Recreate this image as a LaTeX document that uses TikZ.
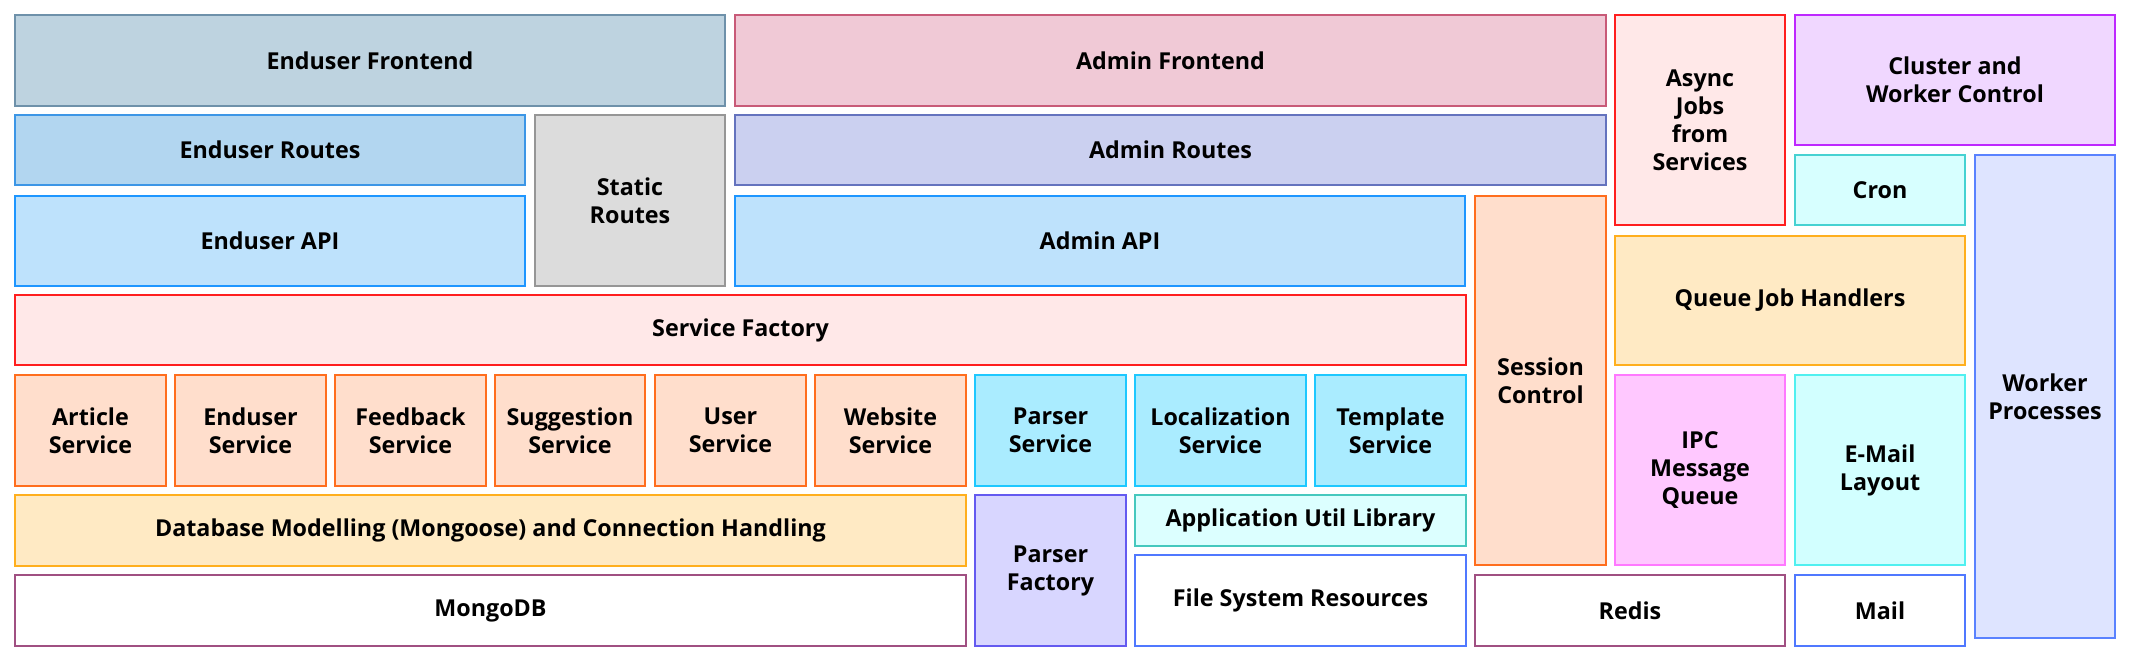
\documentclass[tikz,border=0pt]{standalone}
\usepackage{fontspec}
\setmainfont{Open Sans}
\definecolor{efF}{RGB}{190,211,224}\definecolor{efD}{RGB}{110,145,170}
\definecolor{erF}{RGB}{178,214,240}\definecolor{erD}{RGB}{60,150,230}
\definecolor{apiF}{RGB}{190,226,252}\definecolor{apiD}{RGB}{30,150,255}
\definecolor{stF}{RGB}{220,220,220}\definecolor{stD}{RGB}{150,150,150}
\definecolor{afF}{RGB}{240,201,214}\definecolor{afD}{RGB}{200,90,120}
\definecolor{arF}{RGB}{203,208,240}\definecolor{arD}{RGB}{100,115,190}
\definecolor{orF}{RGB}{255,222,204}\definecolor{orD}{RGB}{255,110,30}
\definecolor{rdF}{RGB}{255,232,232}\definecolor{rdD}{RGB}{255,30,30}
\definecolor{cyF}{RGB}{170,236,255}\definecolor{cyD}{RGB}{30,200,255}
\definecolor{yeF}{RGB}{255,234,196}\definecolor{yeD}{RGB}{255,175,30}
\definecolor{mgD}{RGB}{160,80,130}
\definecolor{pfF}{RGB}{216,214,255}\definecolor{pfD}{RGB}{100,90,240}
\definecolor{auF}{RGB}{220,255,255}\definecolor{auD}{RGB}{70,200,190}
\definecolor{fsD}{RGB}{80,120,255}
\definecolor{crF}{RGB}{215,255,255}\definecolor{crD}{RGB}{70,210,210}
\definecolor{emF}{RGB}{210,255,255}\definecolor{emD}{RGB}{80,240,240}
\definecolor{ipF}{RGB}{255,200,255}\definecolor{ipD}{RGB}{255,120,255}
\definecolor{clF}{RGB}{240,215,255}\definecolor{clD}{RGB}{190,40,255}
\definecolor{wpF}{RGB}{222,228,255}\definecolor{wpD}{RGB}{90,130,255}
\newcommand\lay[7]{%
  \pgfmathsetmacro\bxw{#5-#3}\pgfmathsetmacro\bxh{#6-#4}%
  \node[lbox,#2,minimum width=\bxw pt,minimum height=\bxh pt] (#1) at ({(#3+#5)/2},{(#4+#6)/2}) {#7};}
\begin{document}
\begin{tikzpicture}[x=1pt,y=-1pt,
  lbox/.style={rectangle,line width=2pt,inner sep=0pt,outer sep=0pt,align=center,
    font=\fontsize{23.3}{28}\selectfont\bfseries}]
\useasboundingbox[fill=white] (0,0) rectangle (2130,660);
\lay{ef}{fill=efF,draw=efD}{15}{15}{725}{106}{Enduser Frontend}
\lay{af}{fill=afF,draw=afD}{735}{15}{1606}{106}{Admin Frontend}
\lay{aj}{fill=rdF,draw=rdD}{1615}{15}{1785}{225}{Async\\Jobs\\from\\Services}
\lay{cl}{fill=clF,draw=clD}{1795}{15}{2115}{145}{Cluster and\\Worker Control}
\lay{er}{fill=erF,draw=erD}{15}{115}{525}{185}{Enduser Routes}
\lay{sr}{fill=stF,draw=stD}{535}{115}{725}{286}{Static\\Routes}
\lay{ar}{fill=arF,draw=arD}{735}{115}{1606}{185}{Admin Routes}
\lay{cr}{fill=crF,draw=crD}{1795}{155}{1965}{225}{Cron}
\lay{wp}{fill=wpF,draw=wpD}{1975}{155}{2115}{638}{Worker\\Processes}
\lay{ea}{fill=apiF,draw=apiD}{15}{196}{525}{286}{Enduser API}
\lay{aa}{fill=apiF,draw=apiD}{735}{196}{1465}{286}{Admin API}
\lay{sc}{fill=orF,draw=orD}{1475}{196}{1606}{565}{Session\\Control}
\lay{qj}{fill=yeF,draw=yeD}{1615}{236}{1965}{365}{Queue Job Handlers}
\lay{sf}{fill=rdF,draw=rdD}{15}{295}{1466}{365}{Service Factory}
\lay{s1}{fill=orF,draw=orD}{15}{375}{166}{486}{Article\\Service}
\lay{s2}{fill=orF,draw=orD}{175}{375}{326}{486}{Enduser\\Service}
\lay{s3}{fill=orF,draw=orD}{335}{375}{486}{486}{Feedback\\Service}
\lay{s4}{fill=orF,draw=orD}{495}{375}{645}{486}{Suggestion\\Service}
\lay{s5}{fill=orF,draw=orD}{655}{375}{806}{486}{User\\Service}
\lay{s6}{fill=orF,draw=orD}{815}{375}{966}{486}{Website\\Service}
\lay{ps}{fill=cyF,draw=cyD}{975}{375}{1126}{486}{Parser\\Service}
\lay{ls}{fill=cyF,draw=cyD}{1135}{375}{1306}{486}{Localization\\Service}
\lay{ts}{fill=cyF,draw=cyD}{1315}{375}{1466}{486}{Template\\Service}
\lay{ip}{fill=ipF,draw=ipD}{1615}{375}{1785}{565}{IPC\\Message\\Queue}
\lay{em}{fill=emF,draw=emD}{1795}{375}{1965}{565}{E-Mail\\Layout}
\lay{db}{fill=yeF,draw=yeD}{15}{495}{966}{566}{Database Modelling (Mongoose) and Connection Handling}
\lay{pf}{fill=pfF,draw=pfD}{975}{495}{1126}{646}{Parser\\Factory}
\lay{au}{fill=auF,draw=auD}{1135}{495}{1466}{546}{Application Util Library}
\lay{fs}{fill=white,draw=fsD}{1135}{555}{1466}{646}{File System Resources}
\lay{mg}{fill=white,draw=mgD}{15}{575}{966}{646}{MongoDB}
\lay{rd}{fill=white,draw=mgD}{1475}{575}{1785}{646}{Redis}
\lay{ml}{fill=white,draw=fsD}{1795}{575}{1965}{646}{Mail}
\end{tikzpicture}
\end{document}
